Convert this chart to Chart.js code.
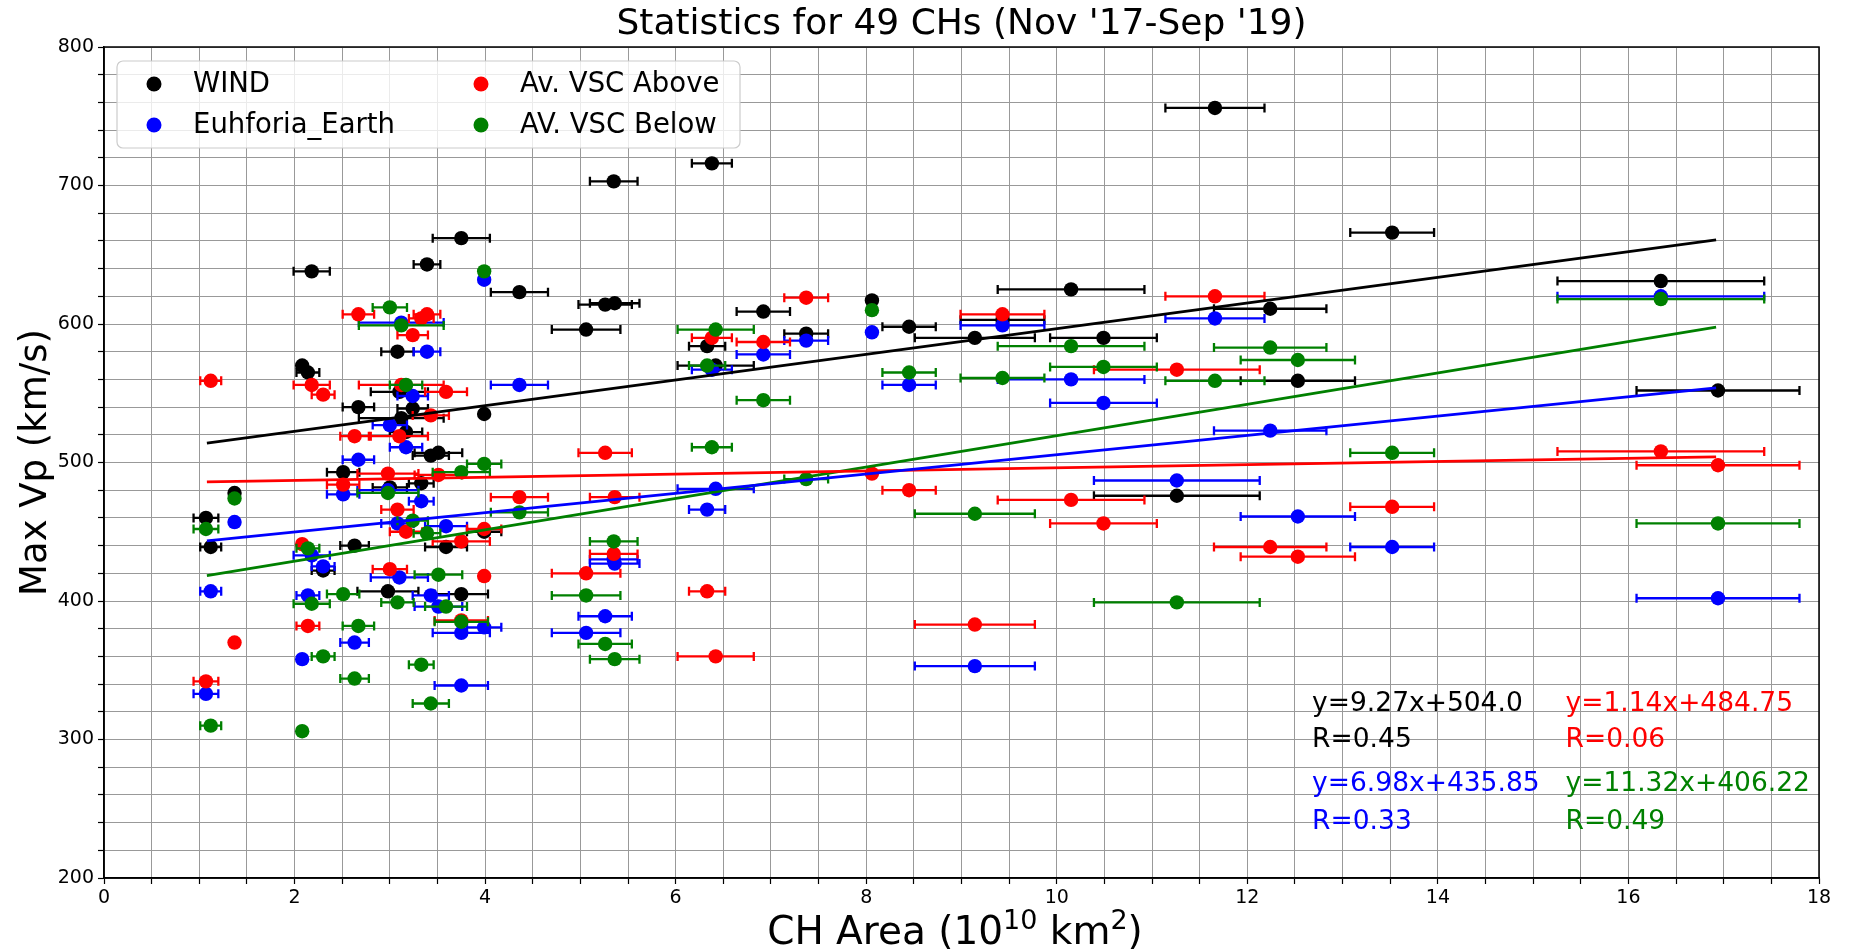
<!DOCTYPE html>
<html><head><meta charset="utf-8">
<script src="https://cdn.jsdelivr.net/npm/chart.js@4.4.1/dist/chart.umd.min.js"></script>
<style>html,body{margin:0;padding:0;background:#fff;}#wrap{width:1850px;height:951px;}</style>
</head><body><div id="wrap"><canvas id="c" width="1850" height="951"></canvas></div>
<script>
// ---- data ----
const chArea    = [1.07,1.12,1.37,2.08,2.14,2.18,2.30,2.51,2.67,2.63,2.98,3.00,3.08,3.10,3.12,3.17,3.24,3.33,3.39,3.43,3.51,3.59,3.75,3.75,3.99,3.99,4.36,5.06,5.26,5.35,5.36,6.33,6.38,6.42,6.92,7.37,8.06,8.45,9.14,9.43,10.15,10.49,11.26,11.66,12.24,12.53,13.52,16.34,16.94];
const chAreaErr = [0.13,0.11,0.02,0.04,0.12,0.19,0.12,0.17,0.165,0.15,0.32,0.18,0.17,0.30,0.445,0.17,0.16,0.13,0.14,0.19,0.25,0.22,0.30,0.28,0.02,0.18,0.30,0.36,0.28,0.25,0.26,0.19,0.21,0.40,0.28,0.23,0.02,0.28,0.63,0.44,0.77,0.56,0.87,0.52,0.59,0.60,0.44,1.085,0.855];
const windVp     = [460,439,478,570,565,638,422,493,540,440,407,482,580,551,532,522,539,485,643,505,507,439,662,405,535,450,623,596,614,703,615,584,716,570,609,593,617,598,590,603,625,590,476,756,611,559,666,631,552];
const euhforiaVp = [333,407,457,358,404,433,425,477,502,370,480,527,456,417,601,511,548,472,580,404,396,454,377,339,632,381,556,377,389,430,427,466,567,481,578,588,594,556,353,599,560,543,487,604,523,461,439,620,402];
const aboveVp    = [342,559,370,441,382,556,549,484,607,519,492,423,466,519,556,450,592,604,607,534,491,551,443,386,418,452,475,420,507,434,475,407,590,360,587,619,492,480,383,607,473,456,567,620,439,432,468,508,498];
const belowVp    = [452,310,474,306,438,398,360,405,382,344,478,612,399,null,599,556,458,354,449,326,419,396,493,385,638,499,464,404,369,443,358,570,511,596,545,488,610,565,463,561,584,569,399,559,583,574,507,618,456];
// linear fits, end points
const fitX       = [1.08, 16.92];
const windFit    = [514.0, 660.8];
const euhforiaFit= [443.4, 553.9];
const aboveFit   = [486.0, 504.0];
const belowFit   = [418.4, 597.8];
const fitText = [
  ["y=9.27x+504.0", "R=0.45"],
  ["y=6.98x+435.85", "R=0.33"],
  ["y=1.14x+484.75", "R=0.06"],
  ["y=11.32x+406.22", "R=0.49"]
];
const seriesNames  = ["WIND", "Euhforia_Earth", "Av. VSC Above", "AV. VSC Below"];
const seriesColors = ["#000000", "#0000ff", "#ff0000", "#008000"];
const titleText = "Statistics for 49 CHs (Nov '17-Sep '19)";
const yTitle = "Max Vp (km/s)";

const FONT = "'DejaVu Sans', Verdana, sans-serif";
const vpSets = [windVp, euhforiaVp, aboveVp, belowVp];
const fitSets = [windFit, euhforiaFit, aboveFit, belowFit];

const datasets = [];
vpSets.forEach((vals, k) => {
  datasets.push({
    type: 'scatter', label: seriesNames[k],
    data: chArea.map((x, i) => ({x: x, y: vals[i]})),
    xErr: chAreaErr,
    backgroundColor: seriesColors[k], borderColor: seriesColors[k],
    pointRadius: 7.2, pointHoverRadius: 7.2, borderWidth: 0,
    order: 10 - k
  });
});
fitSets.forEach((vals, k) => {
  datasets.push({
    type: 'line', label: seriesNames[k] + ' fit',
    data: fitX.map((x, i) => ({x: x, y: vals[i]})),
    borderColor: seriesColors[k], backgroundColor: seriesColors[k],
    borderWidth: 2.8, pointRadius: 0, fill: false, tension: 0,
    order: 1
  });
});

const decor = {
  id: 'decor',
  beforeDatasetDraw(chart, args) {
    const ds = chart.data.datasets[args.index];
    if (!ds.xErr) return;
    const ctx = chart.ctx, xs = chart.scales.x, ys = chart.scales.y;
    ctx.save();
    ctx.strokeStyle = ds.backgroundColor;
    ctx.lineWidth = 2.3;
    ds.data.forEach((p, i) => {
      if (p.y == null) return;
      const e = ds.xErr[i];
      const x1 = xs.getPixelForValue(p.x - e), x2 = xs.getPixelForValue(p.x + e);
      const y = ys.getPixelForValue(p.y);
      ctx.beginPath();
      ctx.moveTo(x1, y); ctx.lineTo(x2, y);
      ctx.moveTo(x1, y - 4.5); ctx.lineTo(x1, y + 4.5);
      ctx.moveTo(x2, y - 4.5); ctx.lineTo(x2, y + 4.5);
      ctx.stroke();
    });
    ctx.restore();
  },
  afterDraw(chart) {
    const ctx = chart.ctx, a = chart.chartArea, xs = chart.scales.x, ys = chart.scales.y;
    ctx.save();
    // frame
    ctx.strokeStyle = '#000'; ctx.lineWidth = 1.5;
    ctx.strokeRect(a.left, a.top, a.right - a.left, a.bottom - a.top);
    // title
    ctx.fillStyle = '#000';
    ctx.font = '36px ' + FONT;
    ctx.textAlign = 'center'; ctx.textBaseline = 'middle';
    ctx.fillText(titleText, (a.left + a.right) / 2, 25);
    // y title
    ctx.save();
    ctx.translate(36, (a.top + a.bottom) / 2);
    ctx.rotate(-Math.PI / 2);
    ctx.font = '37px ' + FONT;
    ctx.fillText(yTitle, 0, 0);
    ctx.restore();
    // x title with superscripts
    const parts = [["CH Area (10", 39, 0], ["10", 27, -15], [" km", 39, 0], ["2", 27, -15], [")", 39, 0]];
    let total = 0;
    parts.forEach(p => { ctx.font = p[1] + 'px ' + FONT; total += ctx.measureText(p[0]).width; });
    let xx = 955 - total / 2;
    const base = 944;
    ctx.textAlign = 'left'; ctx.textBaseline = 'alphabetic';
    parts.forEach(p => { ctx.font = p[1] + 'px ' + FONT; ctx.fillText(p[0], xx, base + p[2]); xx += ctx.measureText(p[0]).width; });
    // legend
    ctx.fillStyle = 'rgba(255,255,255,0.8)';
    ctx.strokeStyle = '#cccccc'; ctx.lineWidth = 1.2;
    ctx.beginPath();
    ctx.roundRect(117, 61, 623, 87, 6);
    ctx.fill(); ctx.stroke();
    const legPos = [[154, 84], [154, 125], [481, 84], [481, 125]];
    ctx.font = '27.5px ' + FONT; ctx.textBaseline = 'middle'; ctx.textAlign = 'left';
    seriesNames.forEach((n, k) => {
      const [lx, ly] = legPos[k];
      ctx.fillStyle = seriesColors[k];
      ctx.beginPath(); ctx.arc(lx, ly, 7.5, 0, Math.PI * 2); ctx.fill();
      ctx.fillStyle = '#000';
      ctx.fillText(n, lx + 39, ly + 1);
    });
    // fit equations
    const eqPos = [[12.68, 325.5, 299.5], [12.68, 267.5, 240.5], [15.34, 325.5, 299.5], [15.34, 267.5, 240.5]];
    ctx.font = '26.5px ' + FONT;
    fitText.forEach((t, k) => {
      const [ex, ey1, ey2] = eqPos[k];
      ctx.fillStyle = seriesColors[k];
      ctx.fillText(t[0], xs.getPixelForValue(ex), ys.getPixelForValue(ey1));
      ctx.fillText(t[1], xs.getPixelForValue(ex), ys.getPixelForValue(ey2));
    });
    ctx.restore();
  }
};

const gridColor = '#999999';
new Chart(document.getElementById('c'), {
  type: 'scatter',
  data: { datasets: datasets },
  options: {
    responsive: false, animation: false, devicePixelRatio: 1,
    layout: { padding: { left: 0, right: 31, top: 47, bottom: 0 } },
    plugins: { legend: { display: false }, title: { display: false }, tooltip: { enabled: false } },
    scales: {
      x: {
        type: 'linear', min: 0, max: 18,
        afterFit: s => { s.height = 73; },
        ticks: { stepSize: 0.5, autoSkip: false, maxRotation: 0, color: '#000', padding: 3,
                 font: { family: FONT, size: 19 },
                 callback: v => (Math.abs(v % 2) < 1e-9 ? String(v) : '') },
        grid: { color: gridColor, lineWidth: 1, tickColor: '#000', tickLength: 6, tickWidth: 1.2 },
        border: { color: '#000', width: 1.5 }
      },
      y: {
        type: 'linear', min: 200, max: 800,
        afterFit: s => { s.width = 104; },
        ticks: { stepSize: 20, autoSkip: false, color: '#000', padding: 4,
                 font: { family: FONT, size: 19 },
                 callback: v => (v % 100 === 0 ? String(v) : '') },
        grid: { color: gridColor, lineWidth: 1, tickColor: '#000', tickLength: 6, tickWidth: 1.2 },
        border: { color: '#000', width: 1.5 }
      }
    }
  },
  plugins: [decor]
});
</script>
</body></html>
